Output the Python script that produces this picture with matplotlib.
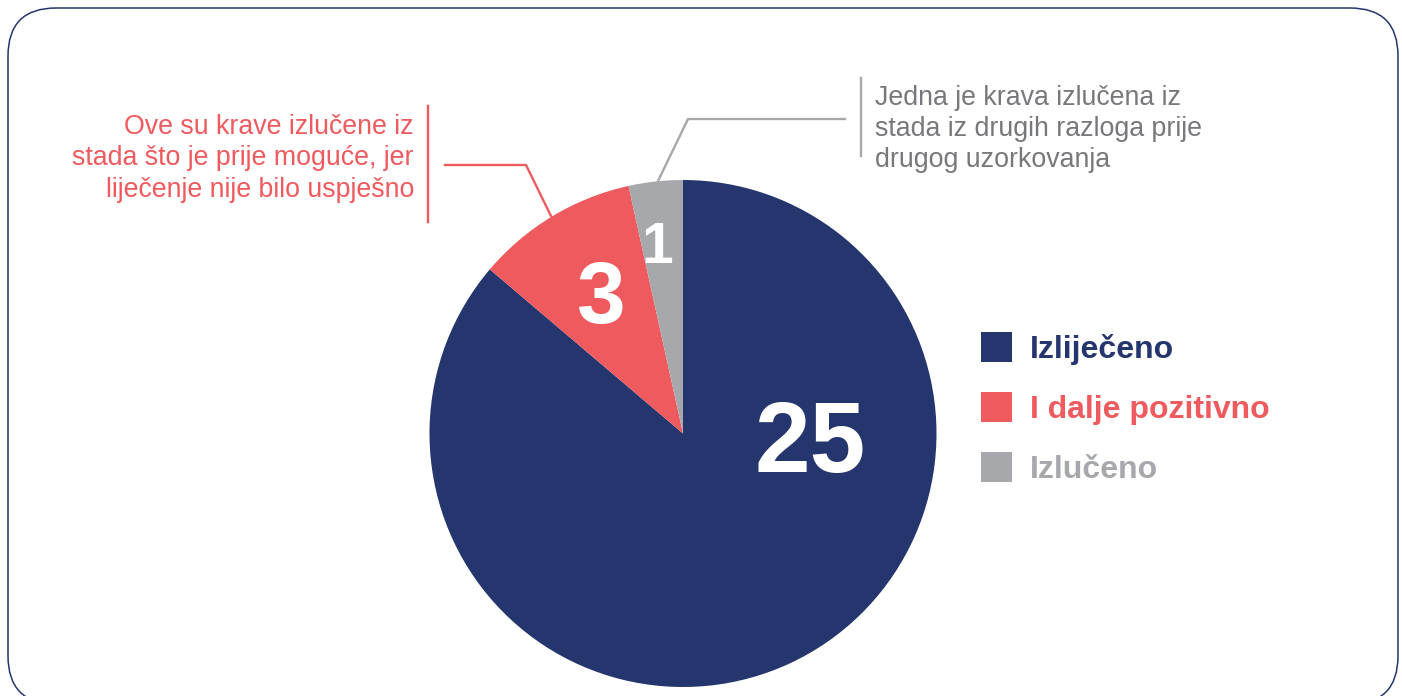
import matplotlib
matplotlib.use("Agg")
import matplotlib.pyplot as plt
from matplotlib.patches import FancyBboxPatch
from matplotlib.transforms import IdentityTransform

# data
categories = ["Izliječeno", "I dalje pozitivno", "Izlučeno"]
counts = [25, 3, 1]
colors = ["#25356E", "#EF5A5E", "#A7A8AC"]
note_red = "Ove su krave izlučene iz\nstada što je prije moguće, jer\nliječenje nije bilo uspješno"
note_gray = "Jedna je krava izlučena iz\nstada iz drugih razloga prije\ndrugog uzorkovanja"

W, H = 1402, 696
fig = plt.figure(figsize=(W / 100, H / 100), dpi=100)
plt.rcParams["font.family"] = ["Liberation Sans", "DejaVu Sans"]

# rounded frame, drawn in pixel coords (origin bottom-left)
frame = FancyBboxPatch((8, -8), 1390, 696, boxstyle="round,pad=0,rounding_size=48",
                       fill=False, edgecolor="#25356E", linewidth=1.1,
                       transform=IdentityTransform(), figure=fig)
fig.patches.append(frame)

# overlay axes in pixel coords (y down) for the callouts
ov = fig.add_axes([0, 0, 1, 1])
ov.set_xlim(0, W)
ov.set_ylim(H, 0)
ov.axis("off")

# pie
cx, cy, r = 683, 433.5, 253.5
ax = fig.add_axes([(cx - r) / W, (H - cy - r) / H, 2 * r / W, 2 * r / H])
wedges, _ = ax.pie(counts, colors=colors, startangle=90, counterclock=False,
                   radius=1, wedgeprops=dict(linewidth=0))
ax.set_xlim(-1, 1)
ax.set_ylim(-1, 1)

ax.text(0.50, -0.152, str(counts[0]), color="white", fontsize=72, fontweight="bold",
        ha="center", va="baseline")
ax.text(-0.327, 0.436, str(counts[1]), color="white", fontsize=63, fontweight="bold",
        ha="center", va="baseline")
ax.text(-0.103, 0.673, str(counts[2]), color="white", fontsize=41, fontweight="bold",
        ha="center", va="baseline")

# callouts (baseline of the last line)
ov.text(414, 197, note_red, color="#EF5A5E", fontsize=19.3, ha="right", va="baseline",
        linespacing=1.28)
ov.plot([428, 428], [106, 222], color="#EF5A5E", lw=1.7)
ov.plot([445, 526, 551], [165, 165, 216], color="#EF5A5E", lw=1.7)

ov.text(875, 167, note_gray, color="#77787B", fontsize=19.3, ha="left", va="baseline",
        linespacing=1.24)
ov.plot([861, 861], [78, 156], color="#A7A8AC", lw=1.7)
ov.plot([845, 688, 658], [119, 119, 181], color="#A7A8AC", lw=1.7)

# legend
leg = ax.legend(wedges, categories, loc="center left",
                bbox_to_anchor=((981 - (cx - r)) / (2 * r), 1 - (408.5 - (cy - r)) / (2 * r)),
                frameon=False, prop=dict(size=23, weight="bold"),
                handlelength=0.97, handleheight=1.07, handletextpad=0.56,
                labelspacing=0.85, borderaxespad=0, borderpad=0)
for t, c in zip(leg.get_texts(), colors):
    t.set_color(c)

fig.savefig("out.png", dpi=100)
